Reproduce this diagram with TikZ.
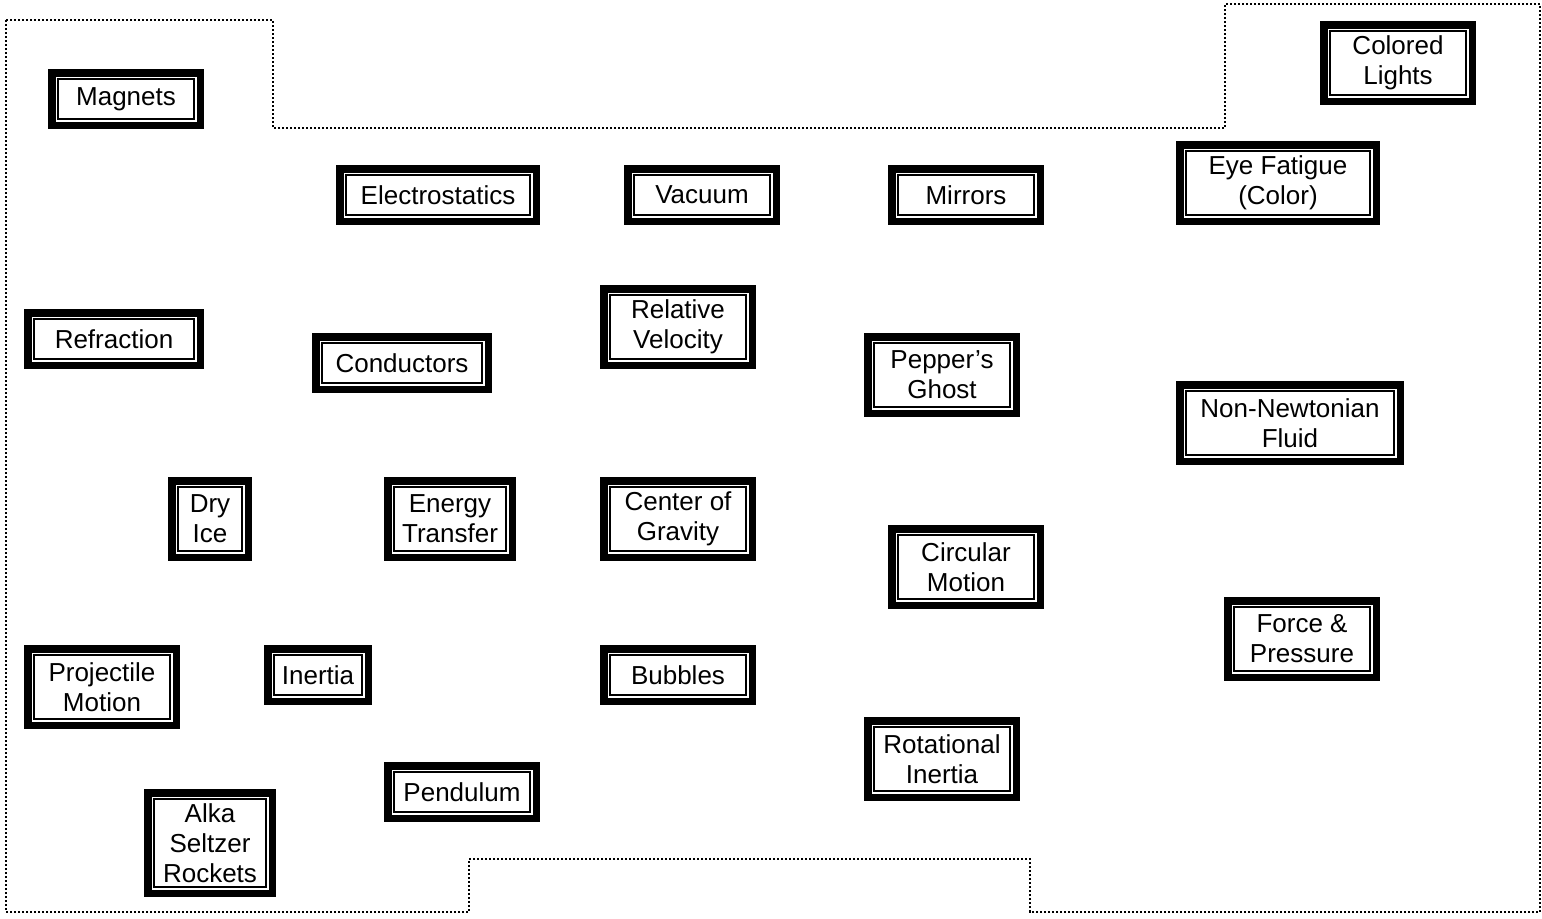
\documentclass[tikz,border=0pt]{standalone}
\usepackage{fontspec}
\setmainfont{Liberation Sans}
\tikzset{
  frame/.style={draw, rectangle, line width=3.75pt, inner sep=0pt, outer sep=0pt,
    align=center, font=\fontsize{13}{15}\selectfont,
    path picture={\draw[line width=1pt]
      ([shift={(3.1pt,3.1pt)}]path picture bounding box.south west) rectangle
      ([shift={(-3.1pt,-3.1pt)}]path picture bounding box.north east);}},
  topic/.style 2 args={frame, minimum width=#1*0.5pt-3.75pt, minimum height=#2*0.5pt-3.75pt},
  zone/.style={line width=0.8pt, dash pattern=on 0.8pt off 1.2pt}
}
\begin{document}
\begin{tikzpicture}[x=0.5pt,y=-0.5pt]
  \useasboundingbox (0,0) rectangle (1542,918);
  % dotted area outline
  \draw[zone] (6,20) -- (273,20) -- (273,128) -- (1225,128) -- (1225,4) -- (1540,4)
    -- (1540,912) -- (1030,912) -- (1030,859) -- (469,859) -- (469,912) -- (6,912) -- cycle;
  % topics
  \node[topic={156}{60}] (magnets) at (126,99) {Magnets};
  \node[topic={156}{84}] (lights) at (1398,63) {Colored\\Lights};
  \node[topic={204}{60}] (electro) at (438,195) {Electrostatics};
  \node[topic={156}{60}] (vacuum) at (702,195) {Vacuum};
  \node[topic={156}{60}] (mirrors) at (966,195) {Mirrors};
  \node[topic={204}{84}] (fatigue) at (1278,183) {Eye Fatigue\\(Color)};
  \node[topic={180}{60}] (refraction) at (114,339) {Refraction};
  \node[topic={180}{60}] (conductors) at (402,363) {Conductors};
  \node[topic={156}{84}] (velocity) at (678,327) {Relative\\Velocity};
  \node[topic={156}{84}] (ghost) at (942,375) {Pepper’s\\Ghost};
  \node[topic={228}{84}] (fluid) at (1290,423) {Non-Newtonian\\Fluid};
  \node[topic={84}{84}] (dryice) at (210,519) {Dry\\Ice};
  \node[topic={132}{84}] (energy) at (450,519) {Energy\\Transfer};
  \node[topic={156}{84}] (gravity) at (678,519) {Center of\\Gravity};
  \node[topic={156}{84}] (circular) at (966,567) {Circular\\Motion};
  \node[topic={156}{84}] (pressure) at (1302,639) {Force \&\\Pressure};
  \node[topic={156}{84}] (projectile) at (102,687) {Projectile\\Motion};
  \node[topic={108}{60}] (inertia) at (318,675) {Inertia};
  \node[topic={156}{60}] (bubbles) at (678,675) {Bubbles};
  \node[topic={156}{84}] (rotational) at (942,759) {Rotational\\Inertia};
  \node[topic={156}{60}] (pendulum) at (462,792) {Pendulum};
  \node[topic={132}{108}] (rockets) at (210,843) {Alka\\Seltzer\\Rockets};
\end{tikzpicture}
\end{document}
